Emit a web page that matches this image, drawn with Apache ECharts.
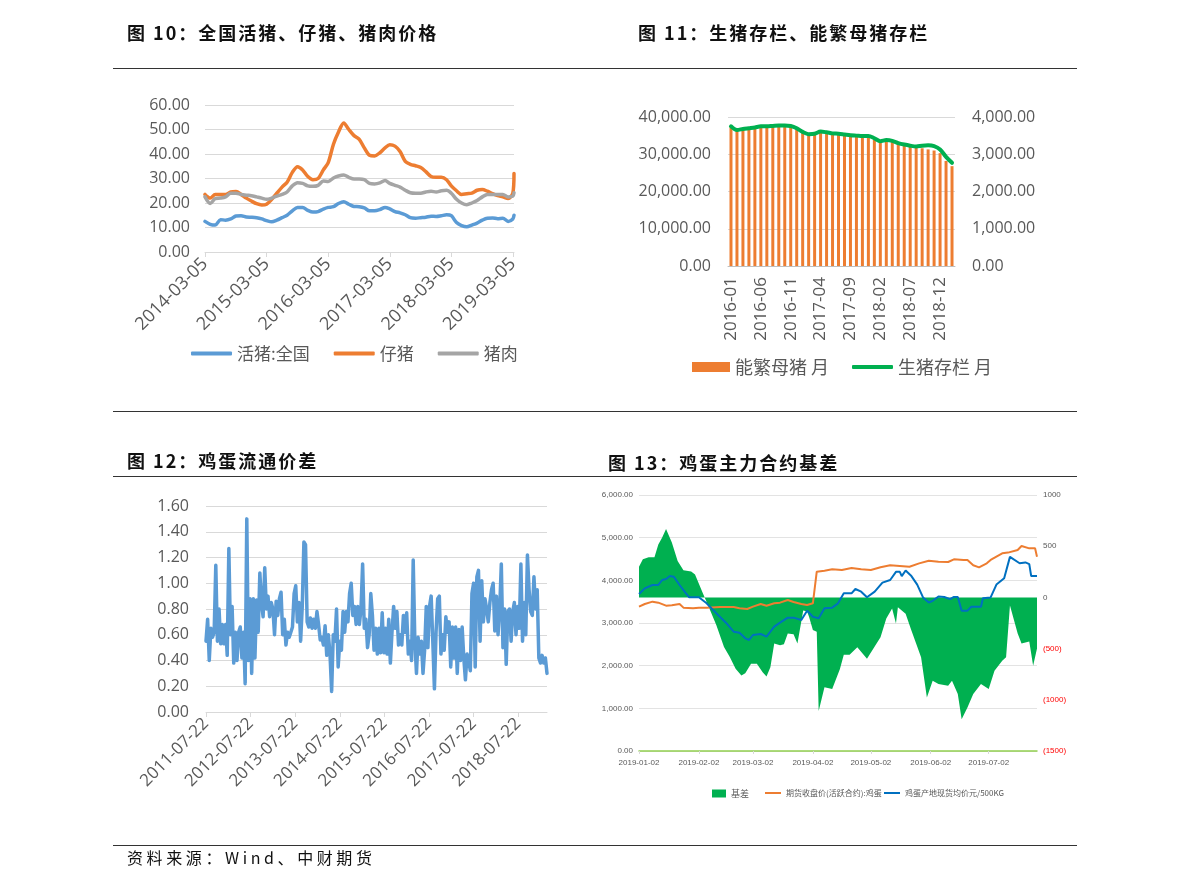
<!DOCTYPE html>
<html><head><meta charset="utf-8">
<script src="https://cdn.jsdelivr.net/npm/echarts@6/dist/echarts.min.js"></script>
<style>
html,body{margin:0;padding:0;background:#fff;}
#wrap{position:relative;width:1191px;height:892px;overflow:hidden;background:#fff;}
#c{position:absolute;left:0;top:0;width:1191px;height:892px;}
.t{position:absolute;font-family:"Noto Sans CJK SC";font-weight:bold;font-size:18px;letter-spacing:2px;color:#111;white-space:nowrap;line-height:18px;}
.rule{position:absolute;left:113px;width:964px;height:1px;background:#333;}
.src{position:absolute;left:127px;top:849px;font-family:"Noto Sans CJK SC";font-size:16px;letter-spacing:3.6px;line-height:16px;color:#111;white-space:nowrap;}
</style></head>
<body>
<div id="wrap">
<div id="c"></div>
<div class="t" style="left:127px;top:23px;">图 10：全国活猪、仔猪、猪肉价格</div>
<div class="t" style="left:638px;top:23px;">图 11：生猪存栏、能繁母猪存栏</div>
<div class="rule" style="top:68px;"></div>
<div class="rule" style="top:411px;"></div>
<div class="t" style="left:127px;top:451px;">图 12：鸡蛋流通价差</div>
<div class="t" style="left:608px;top:453px;">图 13：鸡蛋主力合约基差</div>
<div class="rule" style="top:476px;"></div>
<div class="rule" style="top:845px;"></div>
<div class="src">资料来源：Wind、中财期货</div>
</div>
<script>
// ---------- Chart 10: pig prices (monthly samples from 2014-03-05, then two March 2019 weeks) ----------
const pigStartMonth = '2014-03-05';
const pigMonthCount = 60;
const pigTailDates = ['2019-03-05', '2019-03-12'];
const livePig = [12.5,11.3,11.0,13.2,13.0,13.5,14.7,14.8,14.3,14.2,
  14.0,13.5,12.8,12.3,13.0,14.0,15.0,16.8,18.2,18.2,17.0,16.3,
  16.5,17.5,18.2,18.5,19.8,20.5,19.5,18.6,18.5,18.0,16.8,16.8,
  17.3,18.2,17.6,16.5,16.0,15.2,14.0,13.8,14.0,14.2,14.6,14.5,
  14.8,15.2,14.8,12.0,10.8,10.3,11.0,11.8,13.0,13.8,13.9,13.6,
  13.8,12.5,13.5,15.0];
const piglet = [23.5,22.0,23.5,23.5,23.5,24.5,24.7,23.5,22.0,20.8,
  19.7,19.2,19.5,21.5,24.0,26.5,28.5,32.5,34.8,33.5,30.8,29.5,
  30.0,33.5,36.5,44.0,49.0,52.7,50.0,47.5,46.0,42.5,39.5,39.2,
  40.5,42.5,43.8,43.2,41.0,37.0,35.8,35.2,34.5,32.8,30.8,30.5,
  30.5,29.5,27.0,25.0,23.5,23.8,24.0,25.2,25.5,24.8,23.8,23.0,
  22.5,21.8,24.0,32.0];
const pork = [22.5,19.8,21.8,22.0,22.5,24.0,24.0,23.5,23.2,23.0,
  22.5,22.0,21.5,22.0,22.8,23.5,24.5,27.0,28.3,28.0,27.0,26.8,
  27.2,29.0,28.8,30.2,31.0,31.4,30.5,29.8,29.8,29.5,28.0,27.8,
  28.2,29.2,28.0,27.2,26.5,25.2,24.2,24.0,24.0,24.5,24.8,24.5,
  25.0,25.2,24.0,21.5,20.0,19.3,20.0,21.0,22.5,23.5,23.5,23.5,
  23.5,22.5,22.8,24.2];
const pigTicks = ['2014-03-05','2015-03-05','2016-03-05','2017-03-05','2018-03-05','2019-03-05'];

// ---------- Chart 11: hog & sow inventory, monthly 2016-01 .. 2019-02 ----------
const stockStart = '2016-01';
const hogStock = [37500,36500,36800,37000,37200,37500,37500,37600,37700,37700,37600,37000,
  36000,35400,35500,36100,35900,35600,35500,35300,35100,35000,34900,34900,
  34300,33500,33800,33600,33000,32600,32300,32100,32300,32400,32200,31300,
  29300,27700];
const sowStock = [3720,3640,3680,3700,3720,3740,3750,3755,3760,3760,3740,3700,
  3590,3520,3530,3580,3560,3530,3520,3500,3480,3470,3460,3450,
  3390,3330,3360,3340,3280,3240,3200,3180,3160,3130,3100,3030,
  2820,2680];

// ---------- Chart 12: egg circulation spread (about two-weekly samples) ----------
const eggStart = '2011-07-22';
const eggEnd = '2019-03-15';
const eggSpread = [0.55,0.72,0.40,0.65,0.58,0.62,1.14,0.55,0.80,0.53,0.68,0.53,0.68,0.44,1.27,0.60,0.82,0.38,0.62,0.40,
  0.62,0.66,0.42,0.62,0.22,1.50,0.40,0.88,0.30,0.88,0.42,0.87,0.62,1.08,0.85,0.74,1.12,0.80,0.90,0.74,
  0.85,0.80,0.60,0.86,0.75,0.88,0.93,0.60,0.72,0.52,0.62,0.58,0.62,0.66,0.92,0.98,0.70,0.85,0.55,0.82,
  1.32,1.30,0.70,0.66,0.73,0.65,0.72,0.65,0.78,0.68,0.56,0.58,0.52,0.67,0.44,0.60,0.45,0.16,0.60,0.55,
  0.80,0.35,0.55,0.48,0.78,0.62,0.78,0.70,0.92,1.00,0.75,0.82,0.68,0.82,0.68,0.80,1.15,0.65,0.72,0.50,
  0.60,0.92,0.75,0.48,0.65,0.45,0.65,0.46,0.77,0.46,0.65,0.45,0.72,0.38,0.62,0.82,0.65,0.78,0.52,0.60,
  0.52,0.75,0.62,0.77,0.45,0.55,0.40,1.18,0.55,0.30,0.58,0.45,0.55,0.30,0.48,0.82,0.50,0.82,0.90,0.55,
  0.18,0.62,0.88,0.90,0.45,0.60,0.48,0.74,0.62,0.70,0.35,0.66,0.42,0.66,0.30,0.64,0.40,0.66,0.42,0.25,
  0.45,0.40,0.32,0.92,1.00,0.35,1.05,1.10,0.55,1.02,0.70,0.88,0.80,0.70,0.85,0.95,1.00,0.63,0.90,0.60,
  0.80,1.15,0.50,0.80,0.37,0.78,0.80,0.55,0.78,0.85,0.60,0.82,0.65,1.15,0.55,0.85,0.60,1.22,0.95,0.78,
  0.75,1.05,0.80,0.95,0.42,0.38,0.44,0.38,0.42,0.30];
const eggTicks = ['2011-07-22','2012-07-22','2013-07-22','2014-07-22','2015-07-22','2016-07-22','2017-07-22','2018-07-22'];

// ---------- Chart 13: egg futures basis, [day offset from 2019-01-02, value] ----------
const basisStart = '2019-01-02';
const basisEndDay = 206;
const basis = [[0,300],[2,372],[5,391],[8,391],[9,380],[10,516],[12,586],[14,668],[15,684],[17,536],[20,355],[23,266],[27,253],[29,224],
  [33,43],[36,-89],[40,-270],[44,-484],[47,-582],[50,-697],[53,-763],[55,-740],[58,-648],[61,-648],[64,-730],[66,-773],[68,-681],
  [70,-451],[73,-467],[75,-457],[77,-352],[80,-359],[82,-451],[85,-128],[87,-138],[88,-188],[90,-319],[92,-336],[93,-1109],
  [96,-878],[100,-895],[104,-700],[106,-560],[109,-560],[113,-487],[118,-598],[125,-389],[128,-206],[131,-108],[133,-255],
  [134,-95],[138,-160],[141,-323],[146,-585],[149,-977],[152,-813],[155,-846],[160,-862],[162,-813],[165,-944],[167,-1189],
  [170,-1075],[173,-944],[177,-846],[181,-895],[184,-716],[188,-618],[190,-585],[192,-78],[196,-353],[198,-451],[202,-431],
  [204,-667],[206,-500]];
const futures = [[0,3383],[3,3445],[7,3500],[10,3477],[14,3406],[17,3414],[21,3445],[23,3360],[28,3344],[31,3360],
  [35,3360],[42,3375],[49,3375],[52,3344],[56,3328],[59,3383],[63,3445],[66,3406],[70,3461],[73,3477],
  [77,3539],[80,3492],[84,3445],[87,3422],[90,3461],[91,3470],[92,4203],[96,4227],[100,4258],[105,4242],
  [110,4289],[115,4258],[120,4242],[125,4305],[130,4352],[135,4336],[140,4320],[145,4398],[150,4461],[151,4477],
  [155,4438],[160,4430],[163,4492],[168,4477],[170,4477],[173,4352],[176,4305],[180,4398],[182,4477],[185,4555],
  [188,4633],[191,4650],[196,4711],[198,4805],[202,4750],[205,4750],[206,4555]];
const spot = [[0,3680],[3,3812],[7,3891],[10,3891],[12,4008],[14,4031],[16,4100],[18,4086],[21,3891],[24,3711],[26,3602],
  [31,3602],[35,3461],[40,3227],[45,3008],[49,2797],[52,2773],[55,2641],[57,2602],[59,2719],[63,2742],[66,2680],[70,2914],
  [73,3008],[77,3125],[80,3125],[84,3070],[87,3289],[90,3148],[93,3109],[96,3344],[100,3360],[103,3461],[106,3695],
  [110,3695],[112,3797],[115,3734],[118,3602],[122,3734],[126,3945],[130,4008],[133,4200],[135,4200],[136,4100],
  [137,4100],[138,4230],[141,4100],[144,3900],[147,3600],[150,3480],[152,3520],[155,3620],[158,3610],[161,3560],
  [163,3610],[165,3610],[167,3290],[170,3290],[172,3380],[177,3380],[178,3580],[182,3600],[185,3900],[189,4050],
  [192,4550],[197,4400],[200,4420],[202,4380],[203,4100],[206,4100]];
const basisTicks = ['2019-01-02','2019-02-02','2019-03-02','2019-04-02','2019-05-02','2019-06-02','2019-07-02'];

// ---------- helpers ----------
const DAY = 86400000;
function ts(s){ const p = s.split('-').map(Number); return new Date(p[0], p[1]-1, p[2] || 1).getTime(); }
function pad(n){ return n < 10 ? '0' + n : '' + n; }
function fmtDate(v){ const d = new Date(Math.round(v)); return d.getFullYear() + '-' + pad(d.getMonth()+1) + '-' + pad(d.getDate()); }
function fmtNum(v){ return Number(v).toLocaleString('en-US',{minimumFractionDigits:2, maximumFractionDigits:2}); }

const sp = pigStartMonth.split('-').map(Number);
const pigDates = [];
for (let i = 0; i < pigMonthCount; i++) pigDates.push(new Date(sp[0], sp[1]-1+i, sp[2]).getTime());
pigTailDates.forEach(s => pigDates.push(ts(s)));
const pair = (dates, vals) => vals.map((v, i) => [dates[i], v]);

const sm = stockStart.split('-').map(Number);
const stockMonths = hogStock.map((_, i) => { const d = new Date(sm[0], sm[1]-1+i, 1); return d.getFullYear() + '-' + pad(d.getMonth()+1); });

const e0 = ts(eggStart), e1 = ts(eggEnd);
const eggData = eggSpread.map((v, i) => [e0 + (e1 - e0) * i / (eggSpread.length - 1), v]);

const b0 = ts(basisStart);
const dayPairs = arr => arr.map(p => [b0 + p[0]*DAY, p[1]]);

const GRAY = '#595959', GRID = '#D9D9D9';
const numFont = 'Open Sans';
const cjk = 'Noto Sans CJK SC';
const tinyFont = 'Liberation Sans Narrow, Arial Narrow, Liberation Sans';

// date axes are drawn as numeric (timestamp) axes with custom tick positions
function dateAxis(grid, min, max, ticks, lineColor, lineWidth, tickLen, label){
  return {type:'value', gridIndex:grid, min:min, max:max, scale:false,
    axisLine:{show:true, onZero:false, lineStyle:{color:lineColor, width:lineWidth}},
    splitLine:{show:false},
    axisTick:{show:true, customValues:ticks, length:tickLen, lineStyle:{color:GRID}},
    axisLabel:Object.assign({customValues:ticks, formatter:fmtDate, color:GRAY, showMinLabel:true, showMaxLabel:true}, label)};
}

const chart = echarts.init(document.getElementById('c'), null, {renderer:'canvas'});
chart.setOption({
  animation: false,
  backgroundColor: 'transparent',
  grid: [
    {left:205, top:105, width:309, height:147},
    {left:728, top:117, width:227, height:149},
    {left:206, top:506, width:341, height:206},
    {left:639, top:495, width:398, height:256}
  ],
  xAxis: [
    dateAxis(0, pigDates[0], pigDates[pigDates.length-1], pigTicks.map(ts), GRID, 1, 5,
      {rotate:45, fontSize:18, fontFamily:numFont, margin:9}),
    {type:'category', gridIndex:1, data:stockMonths, boundaryGap:true,
     axisLine:{lineStyle:{color:'#BFBFBF'}},
     axisTick:{interval:4, length:5, lineStyle:{color:'#BFBFBF'}},
     axisLabel:{interval:4, rotate:90, fontSize:17, color:GRAY, fontFamily:numFont, margin:11}},
    dateAxis(2, e0, e1, eggTicks.map(ts), GRID, 1, 5,
      {rotate:45, fontSize:17, fontFamily:numFont, margin:9}),
    dateAxis(3, b0, b0 + basisEndDay*DAY, basisTicks.map(ts), '#92D050', 1.5, 3,
      {fontSize:8, fontFamily:tinyFont, margin:8})
  ],
  yAxis: [
    {type:'value', gridIndex:0, min:0, max:60, interval:10,
     axisLabel:{formatter:v => v.toFixed(2), fontSize:16, color:GRAY, fontFamily:numFont, margin:15},
     splitLine:{lineStyle:{color:GRID}}, axisLine:{show:false}, axisTick:{show:false}},
    {type:'value', gridIndex:1, min:0, max:40000, interval:10000,
     axisLabel:{formatter:fmtNum, fontSize:16, color:GRAY, fontFamily:numFont, margin:17},
     splitLine:{lineStyle:{color:GRID}}, axisLine:{show:false}, axisTick:{show:false}},
    {type:'value', gridIndex:1, position:'right', min:0, max:4000, interval:1000,
     axisLabel:{formatter:fmtNum, fontSize:16, color:GRAY, fontFamily:numFont, margin:17},
     splitLine:{show:false}, axisLine:{show:false}, axisTick:{show:false}},
    {type:'value', gridIndex:2, min:0, max:1.6, interval:0.2,
     axisLabel:{formatter:v => v.toFixed(2), fontSize:16, color:GRAY, fontFamily:numFont, margin:17},
     splitLine:{lineStyle:{color:GRID}}, axisLine:{show:false}, axisTick:{show:false}},
    {type:'value', gridIndex:3, min:0, max:6000, interval:1000,
     axisLabel:{formatter:fmtNum, fontSize:8, color:GRAY, fontFamily:tinyFont, margin:6},
     splitLine:{lineStyle:{color:'#E3E3E3'}}, axisLine:{show:false}, axisTick:{show:false}},
    {type:'value', gridIndex:3, position:'right', min:-1500, max:1000, interval:500,
     axisLabel:{formatter:v => v < 0 ? '{r|(' + (-v) + ')}' : String(v), fontSize:8, color:GRAY, fontFamily:tinyFont, margin:6,
       rich:{r:{color:'#FF0000', fontSize:8, fontFamily:tinyFont}}},
     splitLine:{show:false}, axisLine:{show:false}, axisTick:{show:false}}
  ],
  legend: [
    {data:['活猪:全国','仔猪','猪肉'], left:186, top:340, icon:'roundRect', itemWidth:41, itemHeight:4, itemGap:24,
     textStyle:{fontSize:17, color:GRAY, fontFamily:cjk}},
    {data:['能繁母猪 月'], left:687, top:353, icon:'rect', itemWidth:38, itemHeight:10,
     textStyle:{fontSize:18, color:GRAY, fontFamily:cjk}},
    {data:['生猪存栏 月'], left:847, top:353, icon:'roundRect', itemWidth:41, itemHeight:4,
     textStyle:{fontSize:18, color:GRAY, fontFamily:cjk}},
    {data:['基差'], left:707, top:784, icon:'rect', itemWidth:14, itemHeight:8,
     textStyle:{fontSize:9, color:GRAY, fontFamily:cjk}},
    {data:['期货收盘价(活跃合约):鸡蛋'], left:760, top:784, icon:'rect', itemWidth:16, itemHeight:2,
     textStyle:{fontSize:8, color:GRAY, fontFamily:cjk}},
    {data:['鸡蛋产地现货均价元/500KG'], left:879, top:784, icon:'rect', itemWidth:16, itemHeight:2,
     textStyle:{fontSize:8, color:GRAY, fontFamily:cjk}}
  ],
  series: [
    {name:'活猪:全国', type:'line', xAxisIndex:0, yAxisIndex:0, data:pair(pigDates, livePig), symbol:'none', smooth:0.3,
     lineStyle:{width:3.5, color:'#5B9BD5', cap:'round', join:'round'}, itemStyle:{color:'#5B9BD5'}},
    {name:'仔猪', type:'line', xAxisIndex:0, yAxisIndex:0, data:pair(pigDates, piglet), symbol:'none', smooth:0.3,
     lineStyle:{width:3.5, color:'#ED7D31', cap:'round', join:'round'}, itemStyle:{color:'#ED7D31'}},
    {name:'猪肉', type:'line', xAxisIndex:0, yAxisIndex:0, data:pair(pigDates, pork), symbol:'none', smooth:0.3,
     lineStyle:{width:3.5, color:'#A5A5A5', cap:'round', join:'round'}, itemStyle:{color:'#A5A5A5'}},

    {name:'能繁母猪 月', type:'bar', xAxisIndex:1, yAxisIndex:2, data:sowStock, barWidth:'50%',
     itemStyle:{color:'#ED7D31'}},
    {name:'生猪存栏 月', type:'line', xAxisIndex:1, yAxisIndex:1, data:hogStock, symbol:'none', smooth:0.3,
     lineStyle:{width:4, color:'#00B050', cap:'round'}, itemStyle:{color:'#00B050'}},

    {name:'鸡蛋流通价差', type:'line', xAxisIndex:2, yAxisIndex:3, data:eggData, symbol:'none',
     lineStyle:{width:3.5, color:'#5B9BD5', join:'round', cap:'round'}, itemStyle:{color:'#5B9BD5'}},

    {name:'基差', type:'line', xAxisIndex:3, yAxisIndex:5, data:dayPairs(basis), symbol:'none',
     lineStyle:{width:0, color:'#00B050'}, areaStyle:{color:'#00B050', opacity:1}, itemStyle:{color:'#00B050'}},
    {name:'期货收盘价(活跃合约):鸡蛋', type:'line', xAxisIndex:3, yAxisIndex:4, data:dayPairs(futures), symbol:'none',
     lineStyle:{width:2, color:'#ED7D31'}, itemStyle:{color:'#ED7D31'}},
    {name:'鸡蛋产地现货均价元/500KG', type:'line', xAxisIndex:3, yAxisIndex:4, data:dayPairs(spot), symbol:'none',
     lineStyle:{width:2, color:'#0070C0'}, itemStyle:{color:'#0070C0'}}
  ]
});
</script>
</body></html>
